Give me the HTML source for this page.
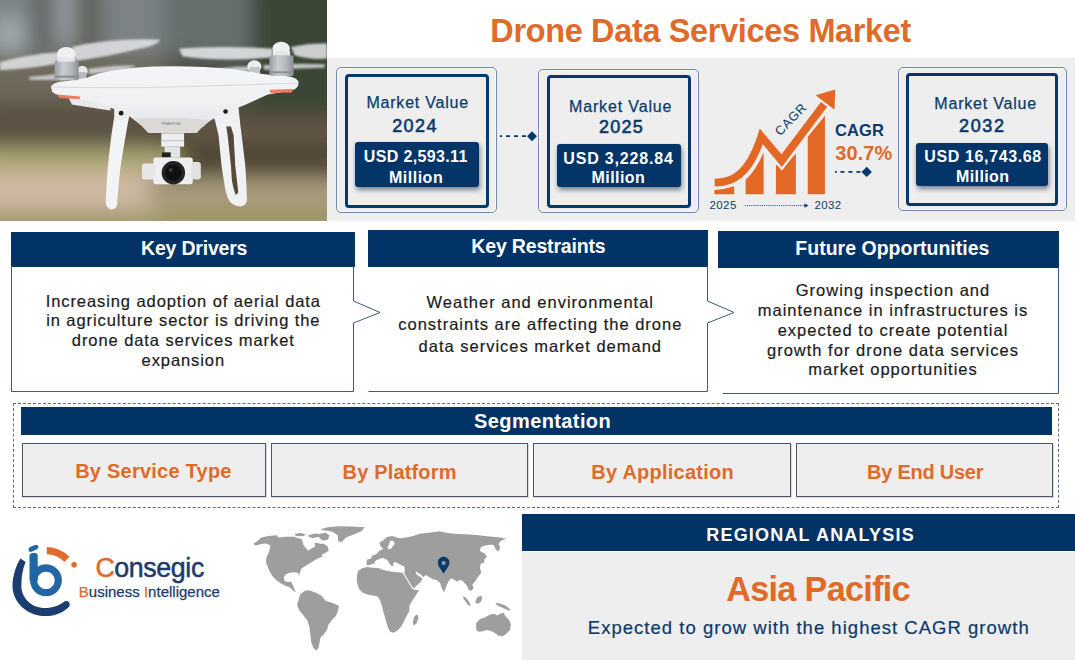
<!DOCTYPE html>
<html><head><meta charset="utf-8"><title>Drone Data Services Market</title>
<style>
*{margin:0;padding:0;box-sizing:border-box}
html,body{width:1075px;height:660px;overflow:hidden;background:#fff}
body{position:relative;font-family:"Liberation Sans",Arial,sans-serif;color:#1b1b1b}
.a{position:absolute}
.t{position:absolute;white-space:nowrap;line-height:1}
.navy{background:#023366}
.ob{position:absolute;border:1.3px solid #6f8aab;border-radius:5px;box-shadow:inset 0 0 0 1px rgba(255,255,255,.7)}
.ib{position:absolute;border:3.5px solid #05386c;border-radius:4px}
.vb{position:absolute;background:#033568;border-radius:3px;box-shadow:1px 3px 5px rgba(0,20,50,.5)}
.mv{font-size:16px;color:#0b3a6b;-webkit-text-stroke:.25px #0b3a6b}
.yr{font-size:18px;color:#0b3a6b;font-weight:400;-webkit-text-stroke:.6px #0b3a6b}
.usd{font-size:16px;color:#fff;font-weight:700;letter-spacing:.17px}
.hd{font-size:19.5px;color:#fff;font-weight:700}
.body{font-size:16.5px;color:#1b1b1b;letter-spacing:1px;-webkit-text-stroke:.2px #1b1b1b}
.seg{position:absolute;background:#eeeeee;border:1.3px solid #4a5666;box-shadow:1px 1px 1px rgba(0,0,0,.15)}
.sgt{font-size:20px;color:#e06a28;font-weight:700}
.c{text-align:center}
</style></head>
<body>

<!-- PHOTO -->
<div class="a" id="photo" style="left:0;top:0;width:327px;height:221px;overflow:hidden"><svg width="327" height="221" viewBox="0 0 977 660" preserveAspectRatio="none">
<defs>
<filter id="bl1" x="-20%" y="-20%" width="140%" height="140%"><feGaussianBlur stdDeviation="30"/></filter>
<filter id="bl2" x="-20%" y="-20%" width="140%" height="140%"><feGaussianBlur stdDeviation="8"/></filter>
<filter id="bl3" x="-10%" y="-50%" width="120%" height="200%"><feGaussianBlur stdDeviation="3"/></filter>
<filter id="bl4"><feGaussianBlur stdDeviation="1.2"/></filter>
<linearGradient id="bgv" x1="0" y1="0" x2="0" y2="1">
<stop offset="0" stop-color="#6f7775"/>
<stop offset=".18" stop-color="#6a6f68"/>
<stop offset=".42" stop-color="#5f5a4b"/>
<stop offset=".62" stop-color="#5b5444"/>
<stop offset=".68" stop-color="#8a8660"/>
<stop offset=".75" stop-color="#a8a070"/>
<stop offset=".84" stop-color="#b6a78d"/>
<stop offset=".92" stop-color="#a59a78"/>
<stop offset="1" stop-color="#8d8560"/>
</linearGradient>
<linearGradient id="mot" x1="0" y1="0" x2="1" y2="0">
<stop offset="0" stop-color="#9a9ea4"/><stop offset=".35" stop-color="#c9ccd0"/><stop offset=".7" stop-color="#b3b6bb"/><stop offset="1" stop-color="#8c9096"/>
</linearGradient>
<linearGradient id="bodyg" x1="0" y1="0" x2="0" y2="1">
<stop offset="0" stop-color="#f4f5f7"/><stop offset=".6" stop-color="#eef0f2"/><stop offset="1" stop-color="#dcdfe3"/>
</linearGradient>
</defs>
<rect width="977" height="660" fill="url(#bgv)"/>
<g filter="url(#bl1)">
<rect x="-60" y="-60" width="360" height="225" fill="#7a8284"/>
<rect x="-10" y="50" width="80" height="110" fill="#a3abaf"/>
<rect x="100" y="-60" width="65" height="210" fill="#5e625e"/>
<rect x="165" y="-60" width="60" height="190" fill="#979ea2"/>
<rect x="225" y="-60" width="75" height="220" fill="#5d5e57"/>
<rect x="300" y="-60" width="190" height="220" fill="#7b8285"/>
<rect x="490" y="-60" width="260" height="230" fill="#66706d"/>
<rect x="750" y="-60" width="290" height="420" fill="#3b4735"/>
<rect x="-60" y="160" width="560" height="150" fill="#6e6a5c"/>
<rect x="500" y="170" width="260" height="180" fill="#4a4d42"/>
<rect x="-60" y="300" width="560" height="145" fill="#5b5244"/>
<rect x="480" y="330" width="560" height="200" fill="#4f4636"/>
<rect x="560" y="360" width="480" height="60" fill="#66594a"/>
<rect x="-60" y="445" width="600" height="55" fill="#afaa75"/>
<rect x="-60" y="512" width="540" height="116" fill="#cdb8a3"/>
<rect x="440" y="530" width="600" height="80" fill="#a6997a"/>
<rect x="-60" y="630" width="1100" height="120" fill="#a09a68"/>
</g>
<!-- propellers -->
<g filter="url(#bl3)" opacity=".88">
<path d="M0 185 Q90 160 185 155 Q200 175 185 188 Q90 205 0 210Z" fill="#dde0e2"/>
<path d="M215 140 Q330 112 478 118 Q472 135 420 145 Q320 170 225 182Z" fill="#dfe1e3"/>
<path d="M85 230 Q160 222 235 215 L235 235 Q160 240 90 238Z" fill="#cfd2d4"/>
<path d="M265 205 Q340 195 405 195 Q400 205 340 215 L265 222Z" fill="#cfd2d4"/>
<path d="M535 145 Q650 135 815 145 L815 172 Q660 185 545 168Z" fill="#e4e6e8"/>
<path d="M870 140 Q930 128 977 130 L977 175 Q930 180 880 165Z" fill="#e0e2e4"/>
<path d="M645 205 Q700 198 760 198 L760 212 Q700 215 650 212Z" fill="#d2d5d7"/>
<path d="M785 195 Q880 188 970 192 L970 202 Q880 205 790 208Z" fill="#d2d5d7"/>
</g>
<!-- back motors -->
<ellipse cx="246" cy="212" rx="16" ry="16" fill="#e6e8ea"/>
<rect x="236" y="215" width="22" height="22" fill="#b8bcc0"/>
<ellipse cx="760" cy="198" rx="21" ry="18" fill="#eceef0"/>
<rect x="745" y="200" width="32" height="22" fill="#c2c5c9"/>
<!-- legs -->
<g filter="url(#bl4)">
<path d="M340 318 L390 325 Q372 420 360 500 Q352 570 350 610 Q345 628 330 625 Q315 620 316 600 Q318 540 325 470 Q332 400 343 338Z" fill="#f3f4f6"/>
<path d="M628 320 L712 315 Q718 375 722 404 L733 496 Q736 545 738 595 Q738 614 718 617 Q698 614 688 604 Q678 590 672 560 L662 496 L653 404 Q645 360 628 320Z" fill="#f0f1f3"/>
<path d="M676 378 L690 378 L698 404 L703 496 L712 575 L704 582 Q696 560 693 540 L690 496 L680 404Z" fill="#55493a"/>
</g>
<!-- body -->
<g filter="url(#bl4)">
<path d="M152 258 Q160 244 200 242 L260 232 Q300 212 400 202 Q500 195 610 200 Q720 206 790 222 L860 228 Q893 232 892 250 Q890 266 870 270 L800 282 Q770 296 735 312 Q690 330 655 345 Q625 360 608 378 Q590 392 540 395 L470 393 Q430 385 410 365 Q380 340 340 325 Q300 312 270 305 L225 295 Q170 288 156 275Z" fill="url(#bodyg)"/>
<path d="M205 292 Q260 300 330 318 L330 330 Q280 322 215 312Z" fill="#e8eaec"/>
<path d="M403 354 Q510 346 624 358 L588 397 L443 397Z" fill="#dad9d5"/>
<path d="M152 260 Q260 262 420 262 Q600 258 890 248" fill="none" stroke="#c8cbcf" stroke-width="2"/>
</g>
<!-- front motors -->
<rect x="163" y="180" width="72" height="60" rx="6" fill="url(#mot)"/>
<rect x="163" y="226" width="72" height="6" fill="#8a8e94"/>
<ellipse cx="198" cy="162" rx="28" ry="22" fill="#eef0f2"/>
<rect x="172" y="172" width="52" height="12" fill="#e4e6e8"/>
<rect x="805" y="165" width="72" height="62" rx="6" fill="url(#mot)"/>
<rect x="805" y="213" width="72" height="6" fill="#8a8e94"/>
<ellipse cx="840" cy="145" rx="26" ry="20" fill="#eef0f2"/>
<rect x="815" y="152" width="52" height="14" fill="#e4e6e8"/>
<!-- LEDs -->
<path d="M170 282 L240 288 L238 296 L178 293Z" fill="#f07a5e"/>
<path d="M805 268 L875 266 L872 276 L808 278Z" fill="#f07a5e"/>
<!-- leg joint dots -->
<circle cx="362" cy="338" r="21" fill="#eceef0"/>
<circle cx="362" cy="338" r="7" fill="#1d1d1d"/>
<circle cx="674" cy="333" r="21" fill="#eceef0"/>
<circle cx="674" cy="333" r="7" fill="#1d1d1d"/>
<!-- gimbal -->
<rect x="482" y="398" width="68" height="40" fill="#eceef0"/>
<rect x="482" y="418" width="68" height="4" fill="#c9cbce"/>
<rect x="492" y="438" width="46" height="32" fill="#e2e4e6"/>
<rect x="484" y="455" width="26" height="15" fill="#222"/>
<rect x="458" y="470" width="118" height="80" rx="8" fill="#eceef0"/>
<rect x="424" y="488" width="40" height="48" rx="8" fill="#e4e6e8"/>
<rect x="572" y="484" width="28" height="52" rx="8" fill="#dfe1e3"/>
<circle cx="518" cy="516" r="35" fill="#222426"/>
<circle cx="518" cy="516" r="24" fill="#0f1011"/>
<circle cx="510" cy="508" r="6" fill="#3a3c40"/>
<text x="484" y="374" font-family="Liberation Sans, sans-serif" font-size="11" fill="#777">PHANTOM</text>
</svg></div>

<!-- TITLE -->
<div id="t_title" class="t" style="left:490.30px;top:15.10px;font-size:32.4px;font-weight:700;color:#e06a28;letter-spacing:-0.298px">Drone Data Services Market</div>

<!-- GRAY PANEL -->
<div class="a" style="left:327px;top:58px;width:748px;height:163px;background:#eeeeee"></div>

<!-- BOX 1 -->
<div class="ob" style="left:336px;top:67px;width:161px;height:145.5px"></div>
<div class="ib" style="left:345px;top:74px;width:144px;height:134px"></div>
<div id="t_mv1" class="t mv" style="left:366.50px;top:95.06px;letter-spacing:0.770px">Market Value</div>
<div id="t_yr1" class="t yr" style="left:392.20px;top:117.46px;letter-spacing:1.400px">2024</div>
<div class="vb" style="left:355px;top:142.2px;width:124.2px;height:44.5px"></div>
<div id="t_usd1" class="t usd" style="left:363.80px;top:149.06px;letter-spacing:0.361px">USD 2,593.11</div>
<div id="t_mil1" class="t usd" style="left:389.00px;top:169.76px;letter-spacing:0.503px">Million</div>

<!-- BOX 2 -->
<div class="ob" style="left:537.5px;top:68.5px;width:161.7px;height:144.5px"></div>
<div class="ib" style="left:547px;top:75px;width:143.7px;height:133px"></div>
<div id="t_mv2" class="t mv" style="left:569.00px;top:98.86px;letter-spacing:0.852px">Market Value</div>
<div id="t_yr2" class="t yr" style="left:598.90px;top:118.4px;letter-spacing:1.265px">2025</div>
<div class="vb" style="left:557px;top:143.7px;width:123.8px;height:43.3px"></div>
<div id="t_usd2" class="t usd" style="left:563.30px;top:150.56px;letter-spacing:0.819px">USD 3,228.84</div>
<div id="t_mil2" class="t usd" style="left:591.50px;top:169.86px;letter-spacing:0.439px">Million</div>

<!-- BOX 3 -->
<div class="ob" style="left:897.7px;top:66.8px;width:169px;height:144.5px"></div>
<div class="ib" style="left:906px;top:73.3px;width:152.3px;height:132.7px"></div>
<div id="t_mv3" class="t mv" style="left:934.30px;top:95.86px;letter-spacing:0.801px">Market Value</div>
<div id="t_yr3" class="t yr" style="left:959.10px;top:117.3px;letter-spacing:1.598px">2032</div>
<div class="vb" style="left:916.3px;top:142.5px;width:132px;height:43.3px"></div>
<div id="t_usd3" class="t usd" style="left:924.30px;top:149.16px;letter-spacing:0.623px">USD 16,743.68</div>
<div id="t_mil3" class="t usd" style="left:956.00px;top:168.76px;letter-spacing:0.402px">Million</div>

<!-- connectors -->
<svg class="a" style="left:0;top:0" width="1075" height="221">
  <line x1="500" y1="136.2" x2="528" y2="136.2" stroke="#05386c" stroke-width="1.8" stroke-dasharray="2.2 3.8 4 4 4 4 4 4"/>
  <path d="M532 131.3 L537 136.3 L532 141.3 L527 136.3Z" fill="#05386c"/>
  <line x1="835" y1="171.9" x2="863" y2="171.9" stroke="#05386c" stroke-width="1.8" stroke-dasharray="1.8 3.6 4 4 4 4 4 4"/>
  <path d="M866.7 166.7 L871.9 171.9 L866.7 177.1 L861.5 171.9Z" fill="#05386c"/>
</svg>

<!-- CAGR graphic -->
<svg class="a" style="left:700px;top:80px" width="200" height="140" viewBox="0 0 943 660">
<g fill="#e36825">
<path d="M68 539 L68 519 Q115 516 161 501 L161 539Z"/>
<path d="M215 539 L215 470 Q262 430 300 342 L300 539Z"/>
<path d="M358 539 L358 398 L388 420 L452 346 L452 539Z"/>
<path d="M508 539 L508 268 L589 168 L589 539Z"/>
</g>
<path d="M40 484 C150 484 230 450 289 266 L385 380 L585 115" fill="none" stroke="#eeeeee" stroke-width="60" stroke-linejoin="miter"/>
<path d="M68 484 C150 484 230 450 289 266 L385 380 L585 115" fill="none" stroke="#e36825" stroke-width="37" stroke-linejoin="miter" stroke-miterlimit="6"/>
<path d="M60 470 L68 470 L68 504 L60 504Z" fill="#eeeeee"/>
<path d="M545 72 L638 45 L634 140Z" fill="#e36825"/>
<text x="0" y="0" transform="translate(378 266) rotate(-46)" font-family="Liberation Sans, sans-serif" font-size="60" fill="#0b3a6b" letter-spacing="3">CAGR</text>
<text x="45" y="608" font-family="Liberation Sans, sans-serif" font-size="54" fill="#0b3a6b" letter-spacing="2">2025</text>
<text x="540" y="608" font-family="Liberation Sans, sans-serif" font-size="54" fill="#0b3a6b" letter-spacing="2">2032</text>
<line x1="212" y1="592" x2="495" y2="592" stroke="#0b3a6b" stroke-width="4" stroke-dasharray="5 5"/>
<path d="M492 582 L512 592 L492 602Z" fill="#0b3a6b"/>
</svg>
<div id="t_cagr" class="t" style="left:835.10px;top:122.43px;font-size:16.5px;font-weight:700;color:#0b3a6b;letter-spacing:0.095px">CAGR</div>
<div id="t_pct" class="t" style="left:835.30px;top:143.37px;font-size:20px;font-weight:700;color:#e06a28;letter-spacing:0.050px">30.7%</div>

<!-- KEY COLUMNS -->
<div class="a navy" style="left:11px;top:232px;width:344px;height:35px"></div>
<div id="t_kd" class="t hd" style="left:141.10px;top:239.44px;letter-spacing:-0.210px">Key Drivers</div>
<div class="a navy" style="left:368px;top:230px;width:340.3px;height:37px"></div>
<div id="t_kr" class="t hd" style="left:471.30px;top:237.24px;letter-spacing:-0.171px">Key Restraints</div>
<div class="a navy" style="left:717.5px;top:231px;width:341.5px;height:37px"></div>
<div id="t_fo" class="t hd" style="left:795.30px;top:239.14px;letter-spacing:0.012px">Future Opportunities</div>

<svg class="a" style="left:0;top:0" width="1075" height="400">
  <path d="M11.5 266 V391.5 H353.5 V323 L380 312.5 L353.5 301 V266" fill="none" stroke="#3a5a80" stroke-width="1"/>
  <path d="M368.5 391.5 H707.5 V323 L734 312.5 L707.5 301 V266" fill="none" stroke="#3a5a80" stroke-width="1"/>
  <path d="M723 393.5 H1058.5 V267" fill="none" stroke="#3a5a80" stroke-width="1"/>
</svg>

<div class="a body c" style="left:11.8px;width:343px;top:291.7px;line-height:19.7px;letter-spacing:.92px">Increasing adoption of aerial data<br>in agriculture sector is driving the<br>drone data services market<br>expansion</div>
<div class="a body c" style="left:370.3px;width:340px;top:290.5px;line-height:22.3px">Weather and environmental<br>constraints are affecting the drone<br>data services market demand</div>
<div class="a body c" style="left:724px;width:338px;top:281.4px;line-height:19.7px">Growing inspection and<br>maintenance in infrastructures is<br>expected to create potential<br>growth for drone data services<br>market opportunities</div>

<!-- SEGMENTATION -->
<div class="a" style="left:13px;top:402.5px;width:1046px;height:105px;border:1px dashed #5a6b82"></div>
<div class="a navy" style="left:21px;top:407.3px;width:1031px;height:27.7px"></div>
<div id="t_seg" class="t hd" style="left:474.10px;top:411.22px;font-size:20px;letter-spacing:0.394px">Segmentation</div>
<div class="seg" style="left:22px;top:443px;width:244px;height:54px"></div>
<div class="seg" style="left:271px;top:443px;width:257px;height:54px"></div>
<div class="seg" style="left:533px;top:443px;width:258px;height:54px"></div>
<div class="seg" style="left:796px;top:443px;width:257px;height:54px"></div>
<div id="t_sg1" class="t sgt" style="left:75.20px;top:461.10px;letter-spacing:0.230px">By Service Type</div>
<div id="t_sg2" class="t sgt" style="left:342.60px;top:461.50px;letter-spacing:0.160px">By Platform</div>
<div id="t_sg3" class="t sgt" style="left:591.30px;top:461.50px;letter-spacing:0.237px">By Application</div>
<div id="t_sg4" class="t sgt" style="left:867.10px;top:461.50px;letter-spacing:-0.260px">By End User</div>

<!-- LOGO -->
<svg class="a" style="left:5px;top:540px" width="80" height="80" viewBox="0 0 660 660">
<path d="M128 152 C95 200 62 290 62 380 C62 520 190 628 330 628 C420 628 490 592 530 548 Q542 522 518 506 Q500 498 486 510 C448 542 392 562 330 562 C220 562 135 480 135 380 C135 300 146 238 170 182 Z" fill="#1c3d70"/>
<path d="M338 201 A132 132 0 1 1 337.9 201 Z M338 261 A72 72 0 1 0 338.1 261 Z" fill="#2167a6" fill-rule="evenodd"/>
<path d="M202 128 Q206 110 225 108 L250 108 Q270 110 270 130 L270 335 L202 335 Z" fill="#2167a6"/>
<path d="M196 88 Q188 70 206 58 L248 42 Q270 36 276 52 Q280 68 262 76 L220 96 Q202 102 196 88Z" fill="#2167a6"/>
<path d="M345 58 A275 275 0 0 1 532 139 L490 181 A215 215 0 0 0 345 118 Z" fill="#e26a28"/>
<circle cx="570" cy="205" r="23" fill="#e26a28"/>
</svg>
<div id="t_cons" class="t" style="left:95.40px;top:555.49px;font-size:26.8px;letter-spacing:-0.403px;color:#1d3a6a;-webkit-text-stroke:.5px"><span style="color:#e06a28">C</span>onsegic</div>
<div id="t_bi" class="t" style="left:78.80px;top:583.50px;font-size:15px;letter-spacing:0.010px;color:#1d3a6a;-webkit-text-stroke:.25px"><span style="color:#e06a28">B</span>usiness <span style="color:#e06a28">I</span>ntelligence</div>

<!-- MAP -->
<svg class="a" style="left:245px;top:515px" width="280" height="140" viewBox="0 0 280 140">
<g fill="#9e9e9e">
<g transform="translate(5 5) scale(0.20442)">
<!-- North America -->
<path d="M15 118 L40 100 L55 86 L90 78 L130 75 L140 85 L175 82 L215 82 L255 95 L262 125 L285 150 L300 140 L320 130 L315 112 L330 112 L345 118 L360 115 L380 130 L385 150 L370 160 L350 170 L355 180 L340 185 L320 195 L295 210 L270 225 L250 240 L245 255 L240 272 L235 258 L215 255 L195 258 L175 265 L165 280 L170 300 L190 305 L200 300 L210 320 L220 345 L225 355 L210 345 L195 330 L170 320 L150 310 L130 295 L110 275 L95 250 L85 225 L78 205 L80 185 L95 150 L100 125 L80 115 L55 118 L30 125 Z"/>
<!-- arctic islands -->
<path d="M220 68 L245 62 L270 70 L265 78 L235 80 L220 74Z"/>
<path d="M285 74 L320 66 L345 70 L338 82 L310 88 L290 84Z"/>
<path d="M330 70 L370 62 L388 75 L382 95 L362 102 L342 92Z"/>
<!-- Greenland -->
<path d="M345 45 L380 35 L430 30 L490 32 L562 35 L545 55 L510 70 L470 85 L445 110 L430 100 L430 75 L400 56 L360 50Z"/>
<!-- South America -->
<path d="M235 400 L245 365 L270 345 L290 345 L320 355 L350 370 L370 395 L400 405 L435 420 L430 445 L420 470 L400 490 L385 510 L375 540 L360 560 L345 575 L340 600 L335 625 L325 640 L310 625 L300 600 L295 560 L290 520 L280 490 L260 465 L240 440 L230 415Z"/>
</g>
<g transform="translate(115 5) scale(0.181818)">
<!-- Eurasia -->
<path d="M35 245 L38 218 L60 212 L68 195 L90 188 L105 170 L128 160 L112 142 L106 125 L128 112 L148 94 L178 88 L205 97 L222 100 L245 97 L275 92 L300 85 L330 76 L365 72 L400 68 L440 62 L470 70 L520 75 L580 78 L640 82 L700 90 L760 95 L805 102 L782 110 L768 122 L760 140 L768 162 L756 172 L745 150 L733 136 L712 136 L690 140 L665 148 L660 170 L688 186 L698 205 L684 215 L682 237 L665 238 L660 262 L667 290 L650 312 L635 335 L618 355 L625 375 L610 390 L596 382 L588 360 L575 348 L565 334 L548 330 L532 340 L520 328 L500 320 L488 335 L475 365 L463 398 L450 375 L440 345 L420 330 L398 325 L378 312 L362 302 L345 318 L335 340 L318 355 L298 372 L285 375 L270 350 L252 318 L240 298 L246 288 L240 268 L215 262 L200 270 L185 268 L160 258 L145 250 L130 255 L115 245 L100 240 L80 240 L60 245 L45 252Z"/>
<!-- Africa -->
<path d="M-15 300 L-10 280 L10 265 L40 258 L70 262 L100 262 L120 272 L150 280 L175 272 L200 275 L232 286 L245 302 L262 332 L285 372 L300 385 L325 385 L310 410 L290 440 L272 470 L272 500 L260 520 L245 550 L230 580 L210 605 L185 620 L165 615 L150 580 L140 545 L130 510 L120 470 L110 440 L95 420 L70 415 L40 410 L15 400 L-5 380 L-15 350 L-18 320Z"/>
<!-- Madagascar -->
<path d="M300 530 L315 518 L322 540 L310 570 L295 580 L290 560Z"/>
<!-- SE Asia islands -->
<path d="M565 420 L580 425 L600 450 L610 470 L600 472 L585 455 L570 435Z"/>
<path d="M635 445 L645 425 L665 415 L672 430 L665 450 L650 460 L638 458Z"/>
<path d="M745 455 L775 460 L800 470 L830 495 L815 498 L790 485 L765 475 L750 465Z"/>
<path d="M735 130 L755 125 L772 150 L760 172 L745 160Z"/>
<!-- Australia -->
<path d="M640 565 L660 545 L690 535 L715 520 L740 515 L755 525 L770 515 L790 510 L800 530 L820 550 L830 575 L825 605 L805 625 L785 640 L760 635 L740 620 L720 610 L700 605 L680 610 L660 615 L642 610 L638 585Z"/>
</g>
</g>
<g transform="translate(115 5) scale(0.181818)">
<path d="M238 290 L290 378" stroke="#fff" stroke-width="6" fill="none"/>
<path d="M37 252 L75 243 L87 223 L124 207 L150 220 L170 250 L180 255 L185 235 L192 230 L245 257 L245 280 L235 290 L165 283 L124 270 L85 260 L45 257Z" fill="#fff"/>
<path d="M305 282 L318 290 L335 300 L352 318 L345 322 L325 310 L310 298Z" fill="#fff"/>
<path d="M165 115 L180 113 L192 130 L185 137 L173 155 L156 162 L151 150 L160 135Z" fill="#fff"/>
<!-- pin -->
<path d="M460 295 C440 265 428 252 428 235 C428 215 443 202 460 202 C477 202 492 215 492 235 C492 252 480 265 460 295Z" fill="#0a3a6e"/>
<circle cx="460" cy="236" r="11" fill="#9e9e9e"/>
</g>
</svg>

<!-- REGIONAL -->
<div class="a navy" style="left:522.3px;top:513.8px;width:553px;height:37.7px"></div>
<div class="a" style="left:522.3px;top:551.5px;width:553px;height:109px;background:#eeeeee"></div>
<div id="t_reg" class="t hd" style="left:706.30px;top:525.86px;font-size:18px;letter-spacing:1.186px">REGIONAL ANALYSIS</div>
<div id="t_ap" class="t" style="left:726.20px;top:572.07px;font-size:34.2px;font-weight:700;color:#e06a28;letter-spacing:-0.674px">Asia Pacific</div>
<div id="t_exp" class="t" style="left:587.80px;top:619.24px;font-size:18.5px;color:#0b3a6b;letter-spacing:1.023px;-webkit-text-stroke:.2px #0b3a6b">Expected to grow with the highest CAGR growth</div>

</body></html>
